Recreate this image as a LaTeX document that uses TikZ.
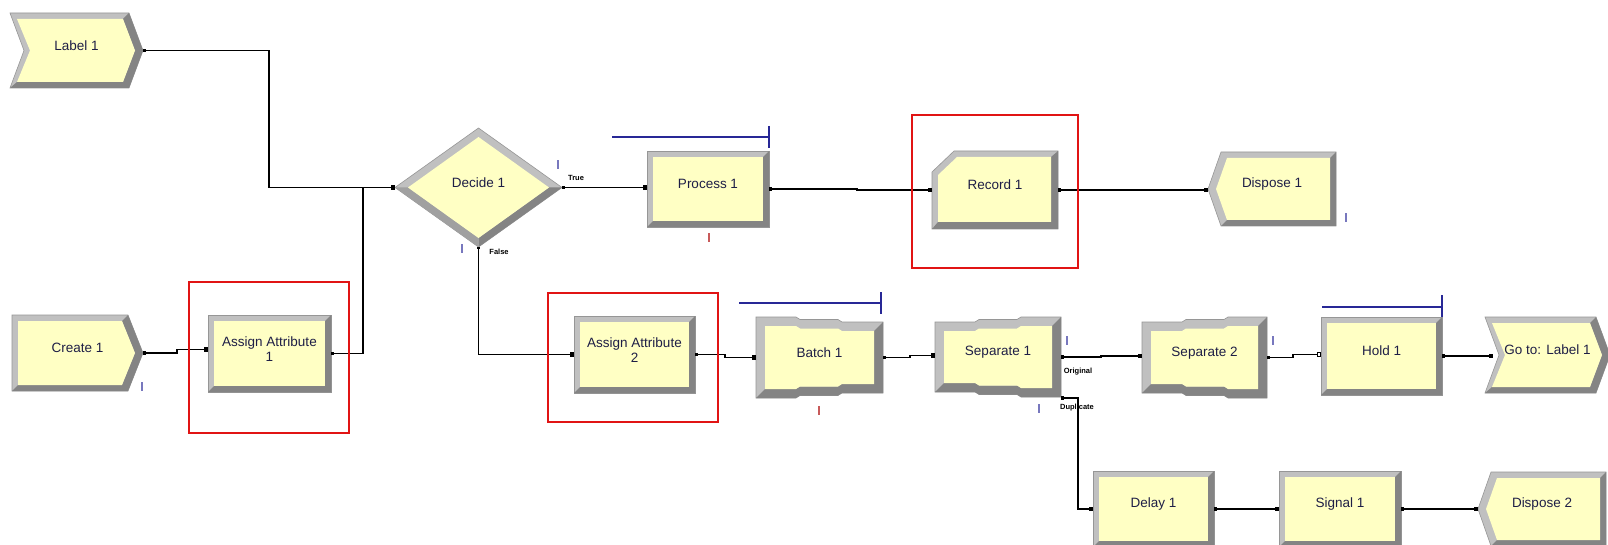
\documentclass[tikz,border=0pt]{standalone}
\usepackage{fontspec}
\setmainfont{Liberation Sans}
\usetikzlibrary{arrows.meta,fit,calc}
\definecolor{yel}{RGB}{255,255,196}
\definecolor{bandL}{RGB}{192,192,192}
\definecolor{bandM}{RGB}{160,160,160}
\definecolor{bandD}{RGB}{132,132,132}
\definecolor{edgec}{RGB}{150,150,150}
\definecolor{txt}{RGB}{30,30,70}
\definecolor{qblue}{RGB}{40,40,150}
\definecolor{mblue}{RGB}{120,120,190}
\definecolor{mred}{RGB}{200,90,90}
\definecolor{rbox}{RGB}{225,20,20}
\tikzset{
  modtext/.style={inner sep=0pt, outer sep=0pt, font=\fontsize{13.5}{15}\selectfont, text=txt, align=center},
  smalllab/.style={inner sep=0pt, font=\fontsize{7.5}{8}\selectfont\bfseries, text=black},
  conn/.style={draw=black, line width=1.1pt, arrows={Square[length=2.5pt,width=3.5pt]-Square[length=4pt,width=4.5pt]}},
  connopen/.style={draw=black, line width=1.1pt, arrows={Square[length=2.5pt,width=3.5pt]-Square[open,length=4pt,width=4.5pt]}},
  connj/.style={draw=black, line width=1.1pt, arrows={Square[length=2.5pt,width=3.5pt]-}},
  queue/.style={draw=qblue, line width=1.4pt},
  redbox/.style={draw=rbox, line width=2.6pt},
  outl/.style={draw=edgec, line width=0.6pt},
}
% rectangle module
\newcommand\rectmod[6]{%
  \filldraw[fill=bandL,outl] (#2,#3) rectangle (#4,#5);
  \fill[bandD] (#4,#3) -- (#4,#5) -- (#2,#5) -- (#2+6,#5-6) -- (#4-6,#5-6) -- (#4-6,#3+6) -- cycle;
  \fill[yel] (#2+6,#3+6) rectangle (#4-6,#5-6);
  \node[modtext, fit={(#2,#3) (#4,#5)}] (#1) {#6};
}
% chevron (label / goto)
\newcommand\chevmod[6]{%
  \pgfmathsetmacro\ym{(#3+#5)/2}
  \filldraw[fill=bandL,outl] (#2,#3) -- (#4-14,#3) -- (#4,\ym) -- (#4-14,#5) -- (#2,#5) -- (#2+14,\ym) -- cycle;
  \fill[bandD] (#4-14,#3) -- (#4,\ym) -- (#4-14,#5) -- (#2,#5) -- (#2+7,#5-6) -- (#4-20,#5-6) -- (#4-8,\ym) -- (#4-20,#3+6) -- cycle;
  \fill[yel] (#2+7,#3+6) -- (#4-20,#3+6) -- (#4-8,\ym) -- (#4-20,#5-6) -- (#2+7,#5-6) -- (#2+20,\ym) -- cycle;
  \node[modtext, fit={(#2,#3) (#4,#5)}] (#1) {#6};
}
% pentagon pointing right (create)
\newcommand\pentR[6]{%
  \pgfmathsetmacro\ym{(#3+#5)/2}
  \filldraw[fill=bandL,outl] (#2,#3) -- (#4-15,#3) -- (#4,\ym) -- (#4-15,#5) -- (#2,#5) -- cycle;
  \fill[bandD] (#4-15,#3) -- (#4,\ym) -- (#4-15,#5) -- (#2,#5) -- (#2+6,#5-6) -- (#4-21,#5-6) -- (#4-8,\ym) -- (#4-21,#3+6) -- cycle;
  \fill[yel] (#2+6,#3+6) -- (#4-21,#3+6) -- (#4-8,\ym) -- (#4-21,#5-6) -- (#2+6,#5-6) -- cycle;
  \node[modtext, fit={(#2,#3) (#4,#5)}] (#1) {#6};
}
% pentagon pointing left (dispose)
\newcommand\pentL[6]{%
  \pgfmathsetmacro\ym{(#3+#5)/2}
  \filldraw[fill=bandL,outl] (#2,\ym) -- (#2+13,#3) -- (#4,#3) -- (#4,#5) -- (#2+13,#5) -- cycle;
  \fill[bandD] (#4,#3) -- (#4,#5) -- (#2+13,#5) -- (#2+19,#5-6) -- (#4-6,#5-6) -- (#4-6,#3+6) -- cycle;
  \fill[yel] (#2+8,\ym) -- (#2+19,#3+6) -- (#4-6,#3+6) -- (#4-6,#5-6) -- (#2+19,#5-6) -- cycle;
  \node[modtext, fit={(#2,#3) (#4,#5)}] (#1) {#6};
}
% record (cut corner)
\newcommand\recmod[6]{%
  \filldraw[fill=bandL,outl] (#2,#3+21) -- (#2+22,#3) -- (#4,#3) -- (#4,#5) -- (#2,#5) -- cycle;
  \fill[bandD] (#4,#3) -- (#4,#5) -- (#2,#5) -- (#2+6,#5-7) -- (#4-7,#5-7) -- (#4-7,#3+6) -- cycle;
  \fill[yel] (#2+6,#3+24) -- (#2+25,#3+6) -- (#4-7,#3+6) -- (#4-7,#5-7) -- (#2+6,#5-7) -- cycle;
  \node[modtext, fit={(#2,#3) (#4,#5)}] (#1) {#6};
}
% decide (diamond)
\newcommand\decmod[6]{%
  \pgfmathsetmacro\ym{(#3+#5)/2}
  \pgfmathsetmacro\xm{(#2+#4)/2}
  \filldraw[fill=bandL,outl] (#2,\ym) -- (\xm,#3) -- (#4,\ym) -- (\xm,#5) -- cycle;
  \fill[bandD] (#4,\ym) -- (\xm,#5) -- (\xm,#5-9) -- (#4-13,\ym) -- cycle;
  \fill[bandM] (#2,\ym) -- (\xm,#5) -- (\xm,#5-9) -- (#2+13,\ym) -- cycle;
  \fill[yel] (#2+13,\ym) -- (\xm,#3+9) -- (#4-13,\ym) -- (\xm,#5-9) -- cycle;
  \node[modtext, fit={(#2,#3) (#4,#5)}] (#1) {#6};
}
% batch (narrowing to the right, stepped edges)
\newcommand\batchmod[6]{%
  \filldraw[fill=bandL,outl] (#2,#3) -- (#2+40,#3) -- (#2+44,#3+2.5) -- (#2+82,#3+2.5) -- (#2+86,#3+5) -- (#4,#3+5)
     -- (#4,#5-5) -- (#2+86,#5-5) -- (#2+82,#5-2.5) -- (#2+44,#5-2.5) -- (#2+40,#5) -- (#2,#5) -- cycle;
  \fill[bandD] (#4,#3+5) -- (#4,#5-5) -- (#2+86,#5-5) -- (#2+82,#5-2.5) -- (#2+44,#5-2.5) -- (#2+40,#5) -- (#2,#5)
     -- (#2+9,#5-9) -- (#2+40,#5-9) -- (#2+44,#5-11.5) -- (#2+82,#5-11.5) -- (#2+86,#5-14) -- (#4-9,#5-14) -- (#4-9,#3+14) -- cycle;
  \fill[yel] (#2+9,#3+9) -- (#2+40,#3+9) -- (#2+44,#3+11.5) -- (#2+82,#3+11.5) -- (#2+86,#3+14) -- (#4-9,#3+14)
     -- (#4-9,#5-14) -- (#2+86,#5-14) -- (#2+82,#5-11.5) -- (#2+44,#5-11.5) -- (#2+40,#5-9) -- (#2+9,#5-9) -- cycle;
  \node[modtext, fit={(#2,#3) (#4,#5)}] (#1) {#6};
}
% separate (widening to the right, stepped edges)
\newcommand\sepmod[6]{%
  \filldraw[fill=bandL,outl] (#2,#3+5) -- (#2+40,#3+5) -- (#2+44,#3+2.5) -- (#2+82,#3+2.5) -- (#2+86,#3) -- (#4,#3)
     -- (#4,#5) -- (#2+86,#5) -- (#2+82,#5-2.5) -- (#2+44,#5-2.5) -- (#2+40,#5-5) -- (#2,#5-5) -- cycle;
  \fill[bandD] (#4,#3) -- (#4,#5) -- (#2+86,#5) -- (#2+82,#5-2.5) -- (#2+44,#5-2.5) -- (#2+40,#5-5) -- (#2,#5-5)
     -- (#2+9,#5-14) -- (#2+40,#5-14) -- (#2+44,#5-11.5) -- (#2+82,#5-11.5) -- (#2+86,#5-9) -- (#4-9,#5-9) -- (#4-9,#3+9) -- cycle;
  \fill[yel] (#2+9,#3+14) -- (#2+40,#3+14) -- (#2+44,#3+11.5) -- (#2+82,#3+11.5) -- (#2+86,#3+9) -- (#4-9,#3+9)
     -- (#4-9,#5-9) -- (#2+86,#5-9) -- (#2+82,#5-11.5) -- (#2+44,#5-11.5) -- (#2+40,#5-14) -- (#2+9,#5-14) -- cycle;
  \node[modtext, fit={(#2,#3) (#4,#5)}] (#1) {#6};
}
\newcommand\qmark[3]{\fill[#1] (#2-1,#3-4.5) rectangle (#2+1,#3+4.5);}
\begin{document}
\begin{tikzpicture}[x=1pt,y=-1pt]
\useasboundingbox (0,0) rectangle (1608,545);
\fill[white] (0,0) rectangle (1608,545);
\clip (0,0) rectangle (1608,545);

% modules
\chevmod{l1}{10}{13}{143}{88}{Label 1}
\pentR{c1}{12}{315}{143}{391}{Create 1}
\rectmod{a1}{208}{315}{331}{392}{Assign Attribute\\1}
\decmod{d1}{395}{128}{562}{247}{Decide 1}
\rectmod{p1}{647}{151}{769}{227}{Process 1}
\recmod{r1}{932}{151}{1058}{229}{Record 1}
\pentL{ds1}{1208}{152}{1336}{226}{Dispose 1}
\rectmod{a2}{574}{316}{695}{393}{Assign Attribute\\2}
\batchmod{b1}{756}{317}{883}{398}{Batch 1}
\sepmod{s1}{935}{317}{1061}{397}{Separate 1}
\sepmod{s2}{1142}{317}{1267}{398}{Separate 2}
\rectmod{h1}{1321}{317}{1442}{395}{Hold 1}
\chevmod{g1}{1485}{317}{1610}{393}{Go to: Label 1}
\rectmod{dl1}{1093}{471}{1214}{547}{Delay 1}
\rectmod{sg1}{1279}{471}{1401}{547}{Signal 1}
\pentL{ds2}{1478}{472}{1606}{546}{Dispose 2}

% junction
\coordinate (j1) at (363,187.5);

% connectors
\draw[conn] (l1.east) -- ++(126,0) |- (d1.west);
\draw[connj] (a1.east) -| (j1);
\draw[conn] (c1.east) -- ++(34,0) |- ([yshift=4pt]a1.west);
\draw[conn] (d1.east) -- (d1.east -| p1.west);
\draw[conn] (d1.south) |- (a2.west);
\draw[conn] (p1.east) -- ++(88,0) |- (r1.west);
\draw[conn] (r1.east) -- (r1.east -| ds1.west);
\draw[conn] (a2.east) -- ++(30,0) |- (b1.west);
\draw[conn] (b1.east) -- ++(27,0) |- ([yshift=1.5pt]s1.west);
\draw[conn] (s1.east) -- ++(40,0) |- ([yshift=1.5pt]s2.west);
\draw[connopen] (s2.east) -- ++(26,0) |- ([yshift=1.5pt]h1.west);
\draw[conn] (h1.east) -- ([xshift=8pt]g1.west |- h1.east);
\draw[conn] ([yshift=-1pt]s1.south east) -- ++(17,0) |- (dl1.west);
\draw[conn] (dl1.east) -- (sg1.west);
\draw[conn] (sg1.east) -- (ds2.west);

% small labels
\node[smalllab] (tlab) at (576,178) {True};
\node[smalllab] (flab) at (499,252) {False};
\node[smalllab] (olab) at (1078,372) {Original};
\node[smalllab] (dlab) at (1077,408) {Duplicate};

% queue lines
\draw[queue] (612,137) -- (769,137);
\draw[queue] (769,126) -- (769,148);
\draw[queue] (739,303) -- (881,303);
\draw[queue] (881,292) -- (881,314);
\draw[queue] (1322,307) -- (1442,307);
\draw[queue] (1442,295) -- (1442,317);

% small counters
\qmark{mblue}{558}{165}
\qmark{mblue}{462}{249}
\qmark{mblue}{142}{386}
\qmark{mblue}{1067}{340}
\qmark{mblue}{1039}{408}
\qmark{mblue}{1273}{340}
\qmark{mblue}{1346}{218}
\qmark{mred}{709}{238}
\qmark{mred}{819}{410}

% red highlight boxes
\draw[redbox] (189,282) rectangle (349,433);
\draw[redbox] (548,293) rectangle (718,422);
\draw[redbox] (912,115) rectangle (1078,268);
\end{tikzpicture}
\end{document}
